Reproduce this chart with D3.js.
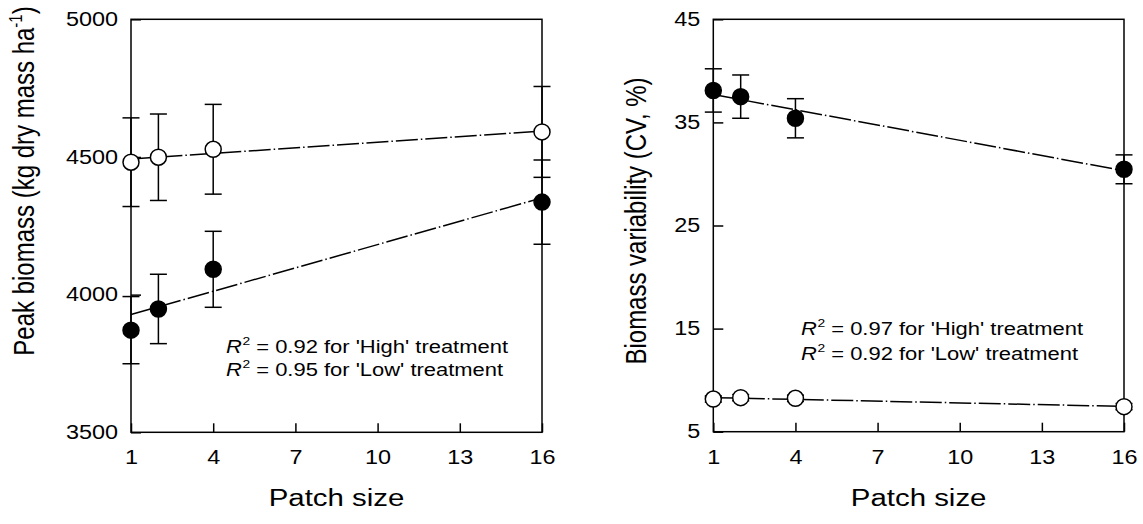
<!DOCTYPE html>
<html>
<head>
<meta charset="utf-8">
<script src="https://cdn.jsdelivr.net/npm/d3@7"></script>
<style>
  body { margin: 0; background: #fff; }
  svg { font-family: "Liberation Sans", Arial, sans-serif; }
  .axis text { font-size: 19.5px; fill: #000; }
  .axis line { stroke: #000; stroke-width: 1.5; }
</style>
</head>
<body>
<script>
// Patch sizes (x) and ticks
var patchSizes = [1, 2, 4, 16];
var xTicks = [1, 4, 7, 10, 13, 16];

// Left panel: peak biomass
var peakOpen = [4481, 4499, 4528, 4591];
var peakOpenErr = [161, 157, 163, 165];
var peakFilled = [3871, 3948, 4092, 4336];
var peakFilledErr = [122, 126, 138, 153];
var peakTicks = [3500, 4000, 4500, 5000];

// Right panel: biomass variability (CV, %)
var cvFilled = [38.1, 37.5, 35.4, 30.45];
var cvFilledErr = [2.1, 2.1, 1.9, 1.4];
var cvOpen = [8.17, 8.3, 8.24, 7.43];
var cvOpenErr = [0.3, 0.3, 0.3, 0.3];
var cvTicks = [5, 15, 25, 35, 45];

// the text in the figure is a little wider than plain Arial
var sx = 1.2;

var svg = d3.select("body").append("svg")
    .attr("width", 1143)
    .attr("height", 524);

// least squares line through the points
function fit(xs, ys) {
    var mx = d3.mean(xs), my = d3.mean(ys);
    var num = d3.sum(xs, function (x, i) { return (x - mx) * (ys[i] - my); });
    var den = d3.sum(xs, function (x) { return (x - mx) * (x - mx); });
    var b = num / den;
    return function (x) { return my + b * (x - mx); };
}

var drawPanel = function (opt) {
    var x = d3.scaleLinear().domain([1, 16]).range([opt.left, opt.right]);
    var y = d3.scaleLinear().domain(opt.yDomain).range([opt.bottom, opt.top]);

    var g = svg.append("g");

    // frame
    g.append("rect")
        .attr("x", opt.left)
        .attr("y", opt.top)
        .attr("width", opt.right - opt.left)
        .attr("height", opt.bottom - opt.top)
        .attr("fill", "none")
        .attr("stroke", "#000")
        .attr("stroke-width", 1.5);

    var xAxis = g.append("g")
        .attr("class", "axis")
        .attr("transform", "translate(0," + opt.bottom + ")")
        .call(d3.axisBottom(x).tickValues(xTicks).tickSizeInner(-9).tickSizeOuter(0).tickPadding(18));
    xAxis.select(".domain").remove();
    xAxis.selectAll("text").attr("transform", "scale(" + sx + ",1)");

    var yAxis = g.append("g")
        .attr("class", "axis")
        .attr("transform", "translate(" + opt.left + ",0)")
        .call(d3.axisLeft(y).tickValues(opt.yTicks).tickFormat(d3.format("d"))
            .tickSizeInner(-10).tickSizeOuter(0).tickPadding(13 / sx));
    yAxis.select(".domain").remove();
    yAxis.selectAll("text").attr("transform", "scale(" + sx + ",1)");

    // regression lines
    opt.series.forEach(function (s) {
        var f = fit(patchSizes, s.values);
        g.append("path")
            .datum([1, 16])
            .attr("fill", "none")
            .attr("stroke", "#000")
            .attr("stroke-width", 1.5)
            .attr("stroke-dasharray", "22,3,1.5,3")
            .attr("d", d3.line()
                .x(function (d) { return x(d); })
                .y(function (d) { return y(f(d)); }));
    });

    // error bars and markers
    opt.series.forEach(function (s) {
        var pts = patchSizes.map(function (p, i) {
            return { x: p, v: s.values[i], e: s.errors[i] };
        });
        var eb = g.append("g").attr("stroke", "#000").attr("stroke-width", 1.5);
        eb.selectAll(".bar").data(pts).enter().append("line")
            .attr("x1", function (d) { return x(d.x); })
            .attr("x2", function (d) { return x(d.x); })
            .attr("y1", function (d) { return y(d.v - d.e); })
            .attr("y2", function (d) { return y(d.v + d.e); });
        [-1, 1].forEach(function (sign) {
            eb.selectAll(".cap" + sign).data(pts).enter().append("line")
                .attr("x1", function (d) { return x(d.x) - 8.5; })
                .attr("x2", function (d) { return x(d.x) + 8.5; })
                .attr("y1", function (d) { return y(d.v + sign * d.e); })
                .attr("y2", function (d) { return y(d.v + sign * d.e); });
        });
        g.selectAll(".pt").data(pts).enter().append("circle")
            .attr("cx", function (d) { return x(d.x); })
            .attr("cy", function (d) { return y(d.v); })
            .attr("r", 8)
            .attr("fill", s.filled ? "#000" : "#fff")
            .attr("stroke", "#000")
            .attr("stroke-width", 1.5);
    });

    // x title
    g.append("text")
        .attr("transform", "translate(" + (opt.left + opt.right) / 2 + ",506) scale(" + sx + ",1)")
        .attr("text-anchor", "middle")
        .style("font-size", "24.5px")
        .text("Patch size");

    // R2 notes
    opt.notes.forEach(function (n, i) {
        var t = g.append("text")
            .attr("transform", "translate(" + opt.noteX + "," + opt.noteY[i] + ") scale(" + sx + ",1)")
            .style("font-size", "18.3px");
        t.append("tspan").style("font-style", "italic").text("R");
        t.append("tspan").attr("dy", -8).attr("dx", 0.5).style("font-size", "11.5px").text("2");
        t.append("tspan").attr("dy", 8).text(" = " + n);
    });

    return g;
};

var left = drawPanel({
    left: 131, right: 542, top: 19.3, bottom: 432.3,
    yDomain: [3500, 5000], yTicks: peakTicks,
    series: [
        { values: peakOpen, errors: peakOpenErr, filled: false },
        { values: peakFilled, errors: peakFilledErr, filled: true }
    ],
    noteX: 226, noteY: [353, 376],
    notes: ["0.92 for 'High' treatment", "0.95 for 'Low' treatment"]
});

var right = drawPanel({
    left: 713.3, right: 1124, top: 19.3, bottom: 431.7,
    yDomain: [5, 45], yTicks: cvTicks,
    series: [
        { values: cvFilled, errors: cvFilledErr, filled: true },
        { values: cvOpen, errors: cvOpenErr, filled: false }
    ],
    noteX: 801, noteY: [335, 360],
    notes: ["0.97 for 'High' treatment", "0.92 for 'Low' treatment"]
});

// y titles
var t1 = svg.append("text")
    .attr("transform", "translate(34,181) scale(" + sx + ",1) rotate(-90)")
    .attr("text-anchor", "middle")
    .style("font-size", "24px");
t1.append("tspan").text("Peak biomass (kg dry mass ha");
t1.append("tspan").attr("dy", -10).style("font-size", "15px").text("-1");
t1.append("tspan").attr("dy", 10).text(")");

svg.append("text")
    .attr("transform", "translate(646,221) scale(" + sx + ",1) rotate(-90)")
    .attr("text-anchor", "middle")
    .style("font-size", "24px")
    .text("Biomass variability (CV, %)");
</script>
</body>
</html>
